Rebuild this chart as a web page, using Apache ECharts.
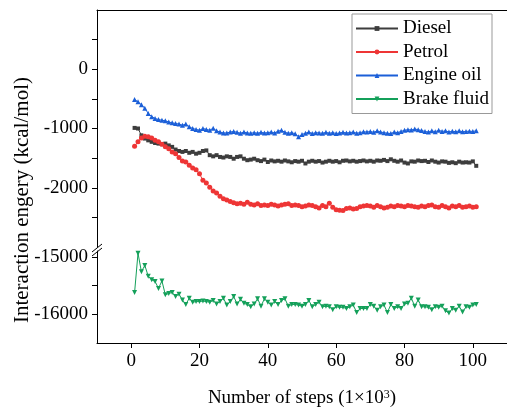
<!DOCTYPE html>
<html><head><meta charset="utf-8">
<script src="https://cdn.jsdelivr.net/npm/echarts@6/dist/echarts.min.js"></script>
<style>html,body{margin:0;padding:0;background:#fff}#c{width:507px;height:409px}</style>
</head><body><div id="c"></div>
<script>
const steps = [1,2,3,4,5,6,7,8,9,10,11,12,13,14,15,16,17,18,19,20,21,22,23,24,25,26,27,28,29,30,31,32,33,34,35,36,37,38,39,40,41,42,43,44,45,46,47,48,49,50,51,52,53,54,55,56,57,58,59,60,61,62,63,64,65,66,67,68,69,70,71,72,73,74,75,76,77,78,79,80,81,82,83,84,85,86,87,88,89,90,91,92,93,94,95,96,97,98,99,100,101];
const diesel = [-990,-1000,-1115,-1170,-1200,-1225,-1245,-1255,-1265,-1255,
-1285,-1310,-1355,-1380,-1395,-1380,-1410,-1395,-1425,-1410,
-1380,-1370,-1450,-1470,-1450,-1480,-1490,-1470,-1480,-1510,
-1480,-1470,-1510,-1535,-1525,-1510,-1535,-1550,-1525,-1565,
-1540,-1555,-1545,-1560,-1540,-1555,-1570,-1550,-1560,-1545,
-1590,-1560,-1545,-1560,-1550,-1575,-1560,-1545,-1560,-1550,
-1570,-1545,-1540,-1555,-1545,-1560,-1550,-1540,-1555,-1545,
-1560,-1540,-1545,-1530,-1550,-1520,-1545,-1560,-1540,-1575,
-1590,-1555,-1560,-1540,-1550,-1545,-1565,-1540,-1560,-1575,
-1555,-1560,-1580,-1570,-1585,-1560,-1575,-1570,-1575,-1555,
-1630];
const petrol = [-1300,-1225,-1160,-1130,-1140,-1160,-1200,-1225,-1265,-1310,
-1340,-1395,-1425,-1490,-1550,-1565,-1620,-1665,-1695,-1765,
-1875,-1920,-1990,-2055,-2090,-2145,-2185,-2205,-2230,-2255,
-2270,-2260,-2280,-2245,-2280,-2290,-2270,-2300,-2290,-2300,
-2280,-2290,-2310,-2290,-2280,-2270,-2300,-2290,-2300,-2320,
-2310,-2290,-2300,-2320,-2340,-2300,-2320,-2260,-2330,-2370,
-2380,-2385,-2350,-2340,-2360,-2350,-2320,-2310,-2300,-2310,
-2330,-2300,-2320,-2340,-2330,-2310,-2320,-2300,-2310,-2320,
-2300,-2310,-2320,-2330,-2310,-2320,-2300,-2290,-2320,-2330,
-2300,-2320,-2340,-2310,-2320,-2300,-2330,-2320,-2310,-2330,
-2320];
const engineOil = [-510,-550,-600,-660,-745,-800,-830,-850,-860,-870,
-890,-905,-915,-925,-945,-925,-970,-1000,-1015,-1030,
-1000,-1015,-1030,-995,-1040,-1060,-1075,-1075,-1060,-1050,
-1065,-1080,-1060,-1075,-1080,-1070,-1080,-1065,-1075,-1070,
-1060,-1075,-1045,-1030,-1065,-1080,-1070,-1090,-1140,-1100,
-1080,-1060,-1085,-1070,-1075,-1080,-1065,-1080,-1070,-1085,
-1075,-1065,-1075,-1070,-1060,-1080,-1070,-1055,-1060,-1050,
-1065,-1040,-1060,-1070,-1080,-1085,-1060,-1070,-1050,-1030,
-1020,-1025,-1010,-1020,-1035,-1050,-1060,-1040,-1055,-1030,
-1050,-1040,-1060,-1045,-1055,-1040,-1055,-1050,-1045,-1050,
-1040];
const brakeFluid = [-15620,-14940,-15260,-15150,-15340,-15400,-15430,-15550,-15420,-15660,
-15640,-15620,-15690,-15650,-15750,-15830,-15720,-15790,-15780,-15780,
-15770,-15780,-15790,-15760,-15820,-15780,-15720,-15840,-15780,-15690,
-15820,-15740,-15810,-15830,-15870,-15820,-15730,-15860,-15730,-15790,
-15840,-15780,-15830,-15760,-15730,-15860,-15830,-15830,-15840,-15860,
-15830,-15760,-15870,-15830,-15790,-15870,-15860,-15870,-15920,-15870,
-15880,-15880,-15900,-15870,-15840,-15970,-15900,-15900,-15900,-15830,
-15860,-15930,-15870,-15840,-15970,-15830,-15900,-15870,-15900,-15820,
-15810,-15720,-15860,-15750,-15870,-15870,-15880,-15920,-15870,-15880,
-15860,-15940,-15980,-15900,-15930,-15860,-15960,-15870,-15880,-15840,
-15830];
const xTicks = [0,20,40,60,80,100];
const upperTicks = [500,0,-500,-1000,-1500,-2000,-2500];
const upperLabels = [0,-1000,-2000];
const lowerTicks = [-15000,-15500,-16000];
const lowerLabels = [-15000,-16000];
const seriesNames = ['Diesel','Petrol','Engine oil','Brake fluid'];

const FONT = '"Liberation Serif", "Times New Roman", serif';
const pair = arr => steps.map((s,i)=>[s, arr[i]]);
const chart = echarts.init(document.getElementById('c'), null, {renderer:'canvas'});
const axLine = {show:true, onZero:false, lineStyle:{color:'#000', width:1}};
const lbl = {fontSize:19, fontFamily:FONT, color:'#000', formatter:v=>String(v)};
const downTri = 'path://M0,0 L10,0 L5,9 Z';
function line(name, data, color, symbol, size, xi, yi){
  return {name, type:'line', xAxisIndex:xi, yAxisIndex:yi, data:pair(data),
    symbol, symbolSize:size, showSymbol:true,
    lineStyle:{color, width:1}, itemStyle:{color}, animation:false};
}
chart.setOption({
  backgroundColor:'#fff',
  animation:false,
  grid:[
    {left:97, top:10, width:420, height:237},
    {left:97, top:251, width:420, height:96}
  ],
  xAxis:[
    {gridIndex:0, type:'value', min:-10, max:110, position:'top',
     axisLine:axLine, axisTick:{show:false}, axisLabel:{show:false}, splitLine:{show:false}},
    {gridIndex:1, type:'value', min:-10, max:110, position:'bottom',
     axisLine:axLine,
     axisTick:{show:true, length:5, customValues:xTicks, lineStyle:{color:'#000'}},
     axisLabel:Object.assign({customValues:xTicks, margin:9}, lbl),
     splitLine:{show:false},
     name:'Number of steps (1×10{sup|3})', nameLocation:'middle', nameGap:46,
     nameTextStyle:{fontSize:19, fontFamily:FONT, color:'#000',
       rich:{sup:{fontSize:12, fontFamily:FONT, color:'#000', verticalAlign:'top', lineHeight:12}}}}
  ],
  yAxis:[
    {gridIndex:0, type:'value', min:-3000, max:1000,
     axisLine:axLine,
     axisTick:{show:true, length:5, customValues:upperTicks, lineStyle:{color:'#000'}},
     axisLabel:Object.assign({customValues:upperLabels, margin:9}, lbl),
     splitLine:{show:false}},
    {gridIndex:1, type:'value', min:-16500, max:-14900,
     axisLine:axLine,
     axisTick:{show:true, length:5, customValues:lowerTicks, lineStyle:{color:'#000'}},
     axisLabel:Object.assign({customValues:lowerLabels, margin:9}, lbl),
     splitLine:{show:false}}
  ],
  legend:{
    orient:'vertical', left:352, top:14, padding:[5,3,5,3],
    itemWidth:42, itemHeight:6, itemGap:4.5,
    borderColor:'#999', borderWidth:1, backgroundColor:'#fff',
    textStyle:{fontSize:19, fontFamily:FONT, color:'#000'},
    data:seriesNames
  },
  series:[
    line(seriesNames[0], diesel, '#3d3d3d', 'rect', 4, 0, 0),
    line(seriesNames[1], petrol, '#ee3535', 'circle', 5, 0, 0),
    line(seriesNames[2], engineOil, '#1b5fd8', 'triangle', 5, 0, 0),
    line(seriesNames[3], brakeFluid, '#14a05a', downTri, 5, 1, 1)
  ],
  graphic:[
    {type:'text', x:22, y:200, rotation:Math.PI/2,
     style:{text:'Interaction engery (kcal/mol)', font:'21px ' + FONT, fill:'#000',
       textAlign:'center', textVerticalAlign:'middle'}},
    {type:'line', shape:{x1:92, y1:252, x2:102, y2:244}, style:{stroke:'#000', lineWidth:1}},
    {type:'line', shape:{x1:92, y1:256, x2:102, y2:248}, style:{stroke:'#000', lineWidth:1}}
  ]
});
</script></body></html>
